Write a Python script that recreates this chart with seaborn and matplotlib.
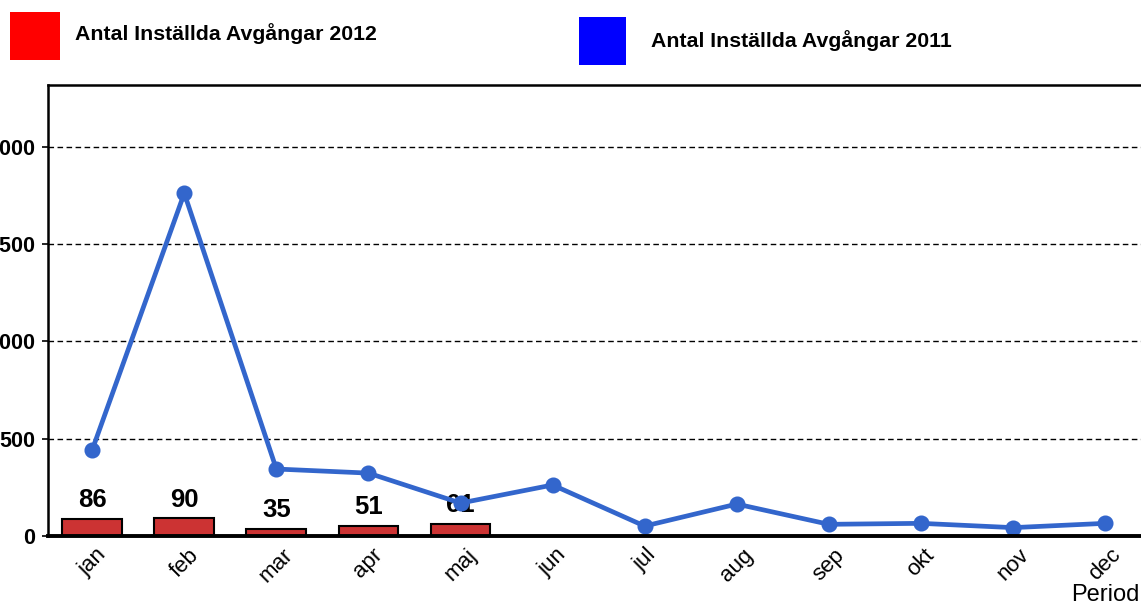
import numpy as np
import pandas as pd
import matplotlib
matplotlib.use("Agg")
import matplotlib.pyplot as plt
from matplotlib.patches import Rectangle
import seaborn as sns

months = ["jan", "feb", "mar", "apr", "maj", "jun", "jul", "aug", "sep", "okt", "nov", "dec"]
cancelled_2012 = [86, 90, 35, 51, 61]
cancelled_2011 = [442, 1760, 344, 323, 169, 262, 51, 164, 60, 65, 43, 65]
y_ticks = [0, 500, 1000, 1500, 2000]
label_2012 = "Antal Inställda Avgångar 2012"
label_2011 = "Antal Inställda Avgångar 2011"

sns.set_theme(style="white")
plt.rcParams["font.family"] = ["Liberation Sans", "DejaVu Sans"]
plt.rcParams["text.color"] = "black"
plt.rcParams["xtick.color"] = "black"
plt.rcParams["ytick.color"] = "black"
plt.rcParams["axes.labelcolor"] = "black"

W, H = 1141, 606
fig = plt.figure(figsize=(W / 100, H / 100), dpi=100)
ax = fig.add_axes([48 / W, 1 - 536 / H, 1 - 48 / W, (536 - 85) / H])

bars = pd.DataFrame({"month": months[:len(cancelled_2012)], "value": cancelled_2012})
line = pd.DataFrame({"month": months, "value": cancelled_2011})

sns.barplot(data=bars, x="month", y="value", order=months, color="#CC3333",
            saturation=1, width=0.65, edgecolor="black", linewidth=1.5, ax=ax, zorder=2)
ax.bar_label(ax.containers[0], fontsize=18.5, fontweight="bold", padding=5, zorder=3)

sns.pointplot(data=line, x="month", y="value", order=months, color="#3366CC",
              markers="o", markersize=9, linewidth=3.4, ax=ax)
for ln in ax.lines:
    ln.set_zorder(5)
    ln.set_solid_capstyle("round")

ax.set_xlim(-0.48, 11.39)
ax.set_ylim(0, 2316)
ax.set_yticks(y_ticks)
ax.set_yticklabels([str(v) for v in y_ticks], fontsize=15.5, fontweight="bold")
ax.set_xticks(range(len(months)))
ax.set_xticklabels(months, rotation=45, fontsize=16)
ax.tick_params(axis="y", which="major", left=True, length=4, width=1.2, color="black", pad=5)
ax.tick_params(axis="x", bottom=False, pad=0)

ax.yaxis.grid(True, linestyle=(0, (4, 2.5)), color="black", linewidth=1)
ax.xaxis.grid(False)
ax.set_axisbelow(True)

for side in ["left", "top"]:
    ax.spines[side].set_color("black")
    ax.spines[side].set_linewidth(1.8)
ax.spines["bottom"].set_color("black")
ax.spines["bottom"].set_linewidth(2.8)
ax.spines["bottom"].set_zorder(6)
ax.spines["right"].set_visible(False)

ax.set_ylabel("")
ax.set_xlabel("Period", fontsize=17, loc="right")
ax.xaxis.set_label_coords(0.999, -0.106)

# legend drawn as figure-level swatches
fig.patches.append(Rectangle((10 / W, 1 - 60 / H), 50 / W, 48 / H, transform=fig.transFigure,
                             facecolor="#FF0000", edgecolor="none"))
fig.text(75 / W, 1 - 34 / H, label_2012, fontsize=15.3, fontweight="bold", va="center", ha="left")
fig.patches.append(Rectangle((579 / W, 1 - 65 / H), 47 / W, 48 / H, transform=fig.transFigure,
                             facecolor="#0000FF", edgecolor="none"))
fig.text(651 / W, 1 - 41 / H, label_2011, fontsize=15.3, fontweight="bold", va="center", ha="left")

fig.savefig("out.png", dpi=100)
